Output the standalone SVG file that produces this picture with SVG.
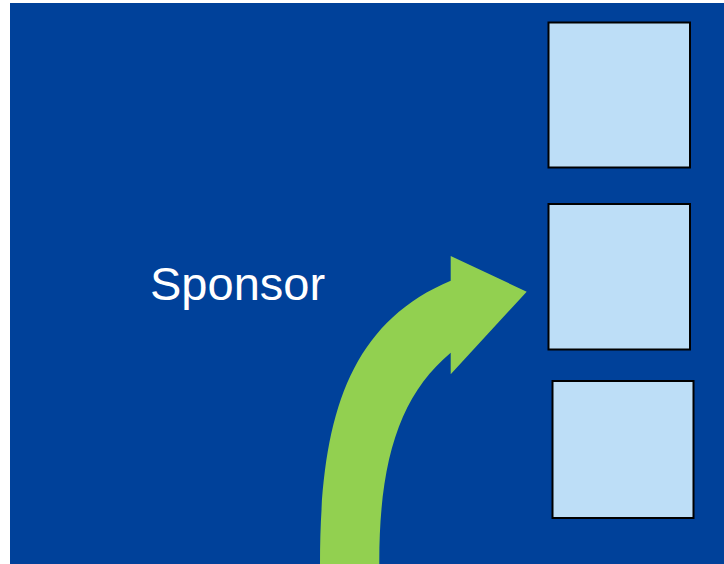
<svg xmlns="http://www.w3.org/2000/svg" width="724" height="564" viewBox="0 0 724 564">
<style>
.box{fill:#BDDEF7;stroke:#000;stroke-width:2}
.lbl{font-family:"Liberation Sans",Arial,sans-serif;font-size:47px;fill:#fff}
</style>
<rect x="0" y="0" width="724" height="564" fill="#fff"/>
<rect x="10" y="3" width="714" height="561" fill="#00419A"/>
<g id="sponsor"><text class="lbl" x="150" y="300">Sponsor</text></g>
<g id="box1"><rect class="box" x="548.5" y="22.5" width="141.5" height="145"/></g>
<g id="box2"><rect class="box" x="548.5" y="204" width="141.5" height="145.5"/></g>
<g id="box3"><rect class="box" x="552.5" y="381" width="141" height="137"/></g>
<g id="connectors">
<path d="M320,564 C320,425 345,325 450.7,280.7 L450.7,256 L526.7,291.7 L450.7,374.3 L450.7,352.7 C400,395 379,460 379.3,564 Z" fill="#92D050"/>
</g>
</svg>
